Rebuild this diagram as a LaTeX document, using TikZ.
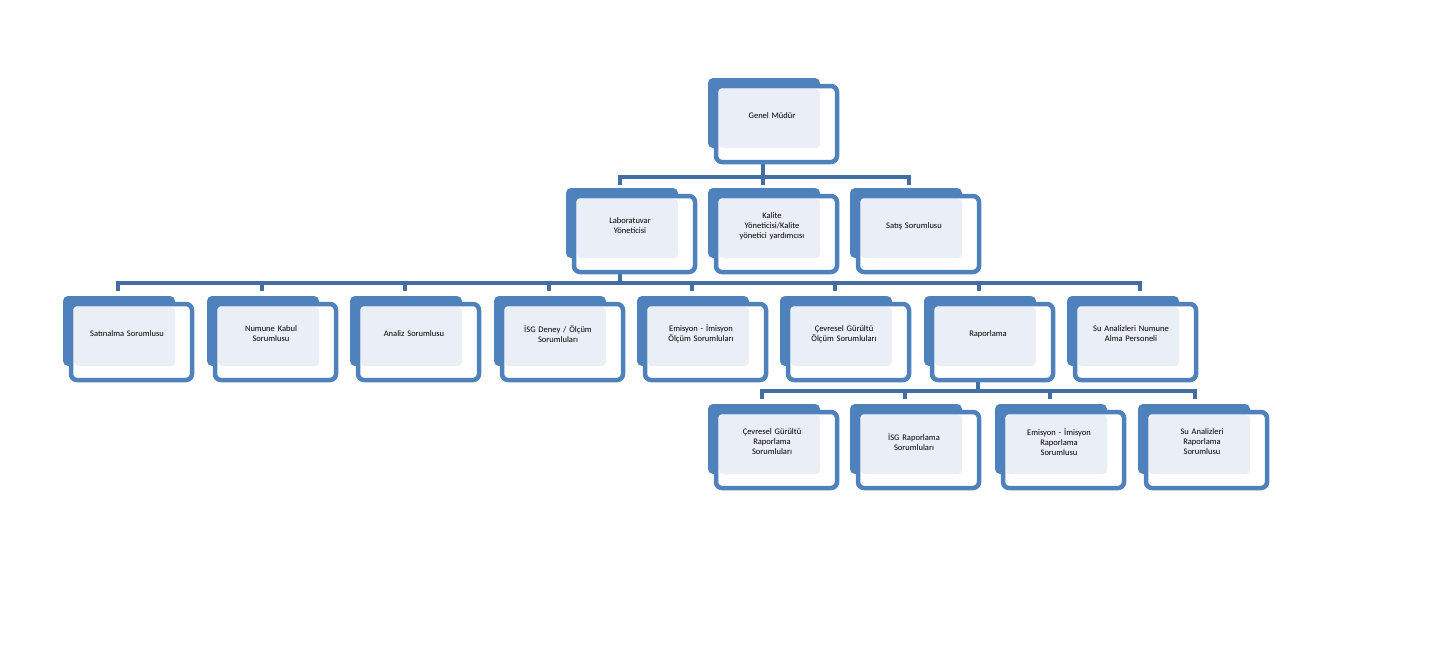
\documentclass[tikz,border=0pt]{standalone}
\usepackage{fontspec}
\setmainfont{Carlito}
\begin{document}
\begin{tikzpicture}[x=1pt,y=-1pt,
  bar/.style={draw=blue!40!black!80!cyan, line width=4.5pt, color={rgb,255:red,66;green,110;blue,165}},
  lbl/.style={font=\fontsize{8.5}{10}\selectfont, align=center, text width=95pt, inner sep=0pt}]
\definecolor{dk}{RGB}{79,129,189}
\definecolor{lt}{RGB}{234,239,247}
\useasboundingbox (0,0) rectangle (1433,664);
% unit macro
\newcommand{\unit}[4]{% name, left, top, text
  \fill[dk,rounded corners=5pt] (#2-8,#3-8) rectangle (#2+104,#3+62);
  \fill[white,rounded corners=6pt] (#2,#3) rectangle (#2+121,#3+76);
  \fill[lt,rounded corners=4pt] (#2+3,#3+3) rectangle (#2+104,#3+62);
  \draw[dk,line width=4.5pt,rounded corners=6pt] (#2,#3) rectangle (#2+121,#3+76);
  \node[lbl] (#1) at (#2+56,#3+30) {#4};
  \coordinate (#1t) at (#2+48,#3-8);
  \coordinate (#1b) at (#2+48,#3+76);
}
\def\bc{{rgb,255:red,66;green,110;blue,165}}
% connectors first
\begin{scope}[draw={rgb,255:red,66;green,110;blue,165},line width=4.5pt]
\draw (763,160) -- (763,177);
\draw (620,185) -- (620,177) -- (909,177) -- (909,185);
\draw (763,177) -- (763,185);
\draw (620,270) -- (620,283);
\draw (118,291) -- (118,283) -- (1140,283) -- (1140,291);
\foreach \x in {262,405,549,692,835,979} \draw (\x,283) -- (\x,291);
\draw (978,378) -- (978,391);
\draw (762,399) -- (762,391) -- (1195,391) -- (1195,399);
\foreach \x in {905,1050} \draw (\x,391) -- (\x,399);
\end{scope}
\unit{gm}{716}{86}{Genel Müdür}
\unit{lab}{574}{196}{Laboratuvar\\Yöneticisi}
\unit{kal}{716}{196}{Kalite\\Yöneticisi/Kalite\\yönetici yardımcısı}
\unit{sat}{858}{196}{Satış Sorumlusu}
\unit{s1}{71}{304}{Satınalma Sorumlusu}
\unit{s2}{215}{304}{Numune Kabul\\Sorumlusu}
\unit{s3}{358}{304}{Analiz Sorumlusu}
\unit{s4}{502}{304}{İSG Deney / Ölçüm\\Sorumluları}
\unit{s5}{645}{304}{Emisyon - İmisyon\\Ölçüm Sorumluları}
\unit{s6}{788}{304}{Çevresel Gürültü\\Ölçüm Sorumluları}
\unit{s7}{932}{304}{Raporlama}
\unit{s8}{1075}{304}{Su Analizleri Numune\\Alma Personeli}
\unit{r1}{716}{412}{Çevresel Gürültü\\Raporlama\\Sorumluları}
\unit{r2}{858}{412}{İSG Raporlama\\Sorumluları}
\unit{r3}{1003}{412}{Emisyon - İmisyon\\Raporlama\\Sorumlusu}
\unit{r4}{1146}{412}{Su Analizleri\\Raporlama\\Sorumlusu}
\end{tikzpicture}
\end{document}
